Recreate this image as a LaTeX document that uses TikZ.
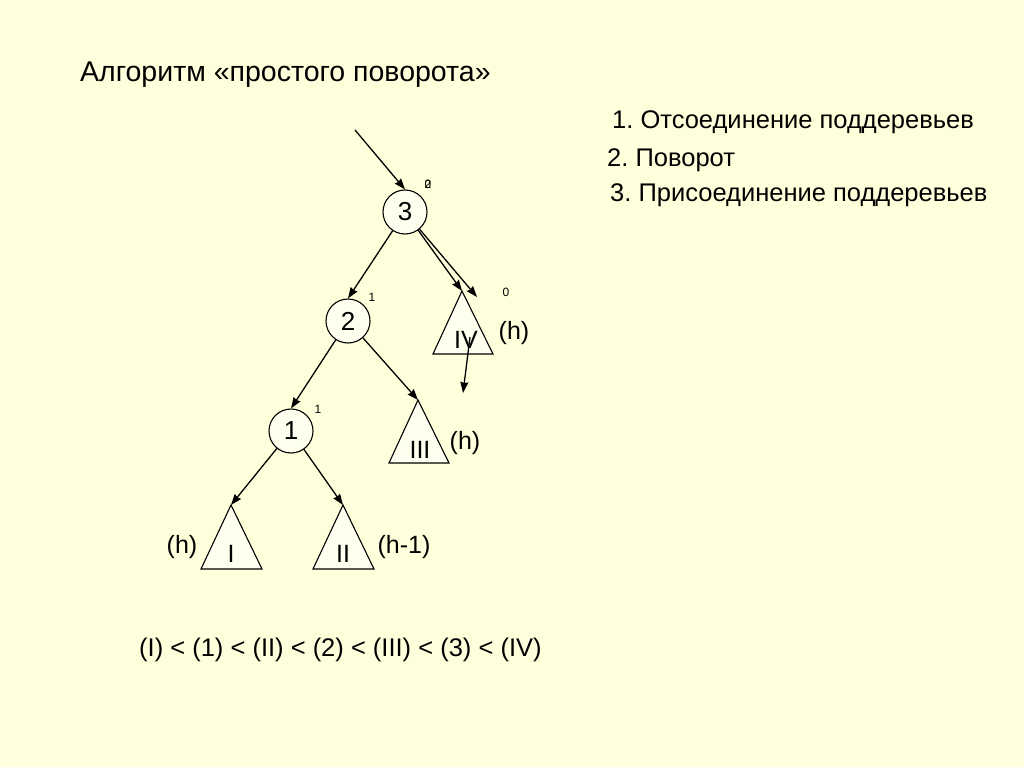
\documentclass[tikz,border=0pt]{standalone}
\usepackage{fontspec}
\setmainfont{Liberation Sans}
\usepackage{tikz}
\usetikzlibrary{arrows.meta}
\frenchspacing
\definecolor{paper}{HTML}{FFFFDC}
\definecolor{pale}{HTML}{FFFFF0}
\definecolor{ink}{HTML}{000000}
\tikzset{
  >={Stealth[length=11pt,width=8pt,inset=1pt]},
  vert/.style={circle,draw=ink,fill=pale,line width=1.1pt,minimum size=44pt,inner sep=0pt,font=\fontsize{26}{26}\selectfont},
  subtree/.style={draw=ink,fill=pale,line width=1.1pt,line join=miter},
  flow/.style={->,line width=1.3pt,color=ink},
  tlabel/.style={inner sep=0pt,font=\fontsize{25}{25}\selectfont},
  bal/.style={inner sep=0pt,font=\fontsize{12}{12}\selectfont},
  txt/.style={inner sep=0pt,anchor=base west,font=\fontsize{25.5}{25.5}\selectfont},
}

\begin{document}
\begin{tikzpicture}[x=1pt,y=-1pt]
  \fill[paper] (0,0) rectangle (1024,767);
  \useasboundingbox (0,0) rectangle (1024,767);

  % headings
  \node[txt,font=\fontsize{28.5}{28.5}\selectfont] (title) at (80,82) {Алгоритм «простого поворота»};
  \node[txt] (step1) at (612,129) {1. Отсоединение поддеревьев};
  \node[txt] (step2) at (607,167) {2. Поворот};
  \node[txt] (step3) at (610,202) {3. Присоединение поддеревьев};

  % vertices
  \node[vert] (n3) at (405,212) {3};
  \node[vert] (n2) at (348,321) {2};
  \node[vert] (n1) at (291,431) {1};
  \node[bal] (b3a) at (428,184) {0};
  \node[bal] (b3b) at (428,184) {2};
  \node[bal] (b2) at (372,297) {1};
  \node[bal] (b1) at (318,409) {1};
  \node[bal] (bIV) at (506,292) {0};

  % subtrees
  \coordinate (IVtop) at (462,291);
  \coordinate (IIItop) at (418,400);
  \coordinate (Itop) at (231,505);
  \coordinate (IItop) at (343,505);
  \draw[subtree] (IVtop) -- ++(-29,63) -- ++(60,0) -- cycle;
  \draw[subtree] (IIItop) -- ++(-29,63) -- ++(60,0) -- cycle;
  \draw[subtree] (Itop) -- ++(-30,64) -- ++(61,0) -- cycle;
  \draw[subtree] (IItop) -- ++(-30,64) -- ++(61,0) -- cycle;
  \node[tlabel] (IV) at (466,340) {IV};
  \node[tlabel] (III) at (420,450) {III};
  \node[tlabel] (I) at (231,554) {I};
  \node[tlabel] (II) at (343,554) {II};
  \node[tlabel] (hIV) at (514,333) {(h)};
  \node[tlabel] (hIII) at (465,443) {(h)};
  \node[tlabel] (hI) at (182,547) {(h)};
  \node[tlabel] (hII) at (404,547) {(h-1)};

  % links
  \coordinate (in) at (355,130);
  \coordinate (IVside) at (477,297);
  \coordinate (cut) at (470,337);
  \coordinate (cutend) at (463,393);
  \draw[flow] (in) -- (n3.north);
  \draw[flow] (n3) -- (n2.north);
  \draw[flow] (n3) -- (IVtop);
  \draw[flow] (n3) -- (IVside);
  \draw[flow] (cut) -- (cutend);
  \draw[flow] (n2) -- (n1.north);
  \draw[flow] (n2) -- (IIItop);
  \draw[flow] (n1) -- (Itop);
  \draw[flow] (n1) -- (IItop);

  \node[txt] (order) at (139,656) {(I) < (1) < (II) < (2) < (III) < (3) < (IV)};
\end{tikzpicture}
\end{document}
